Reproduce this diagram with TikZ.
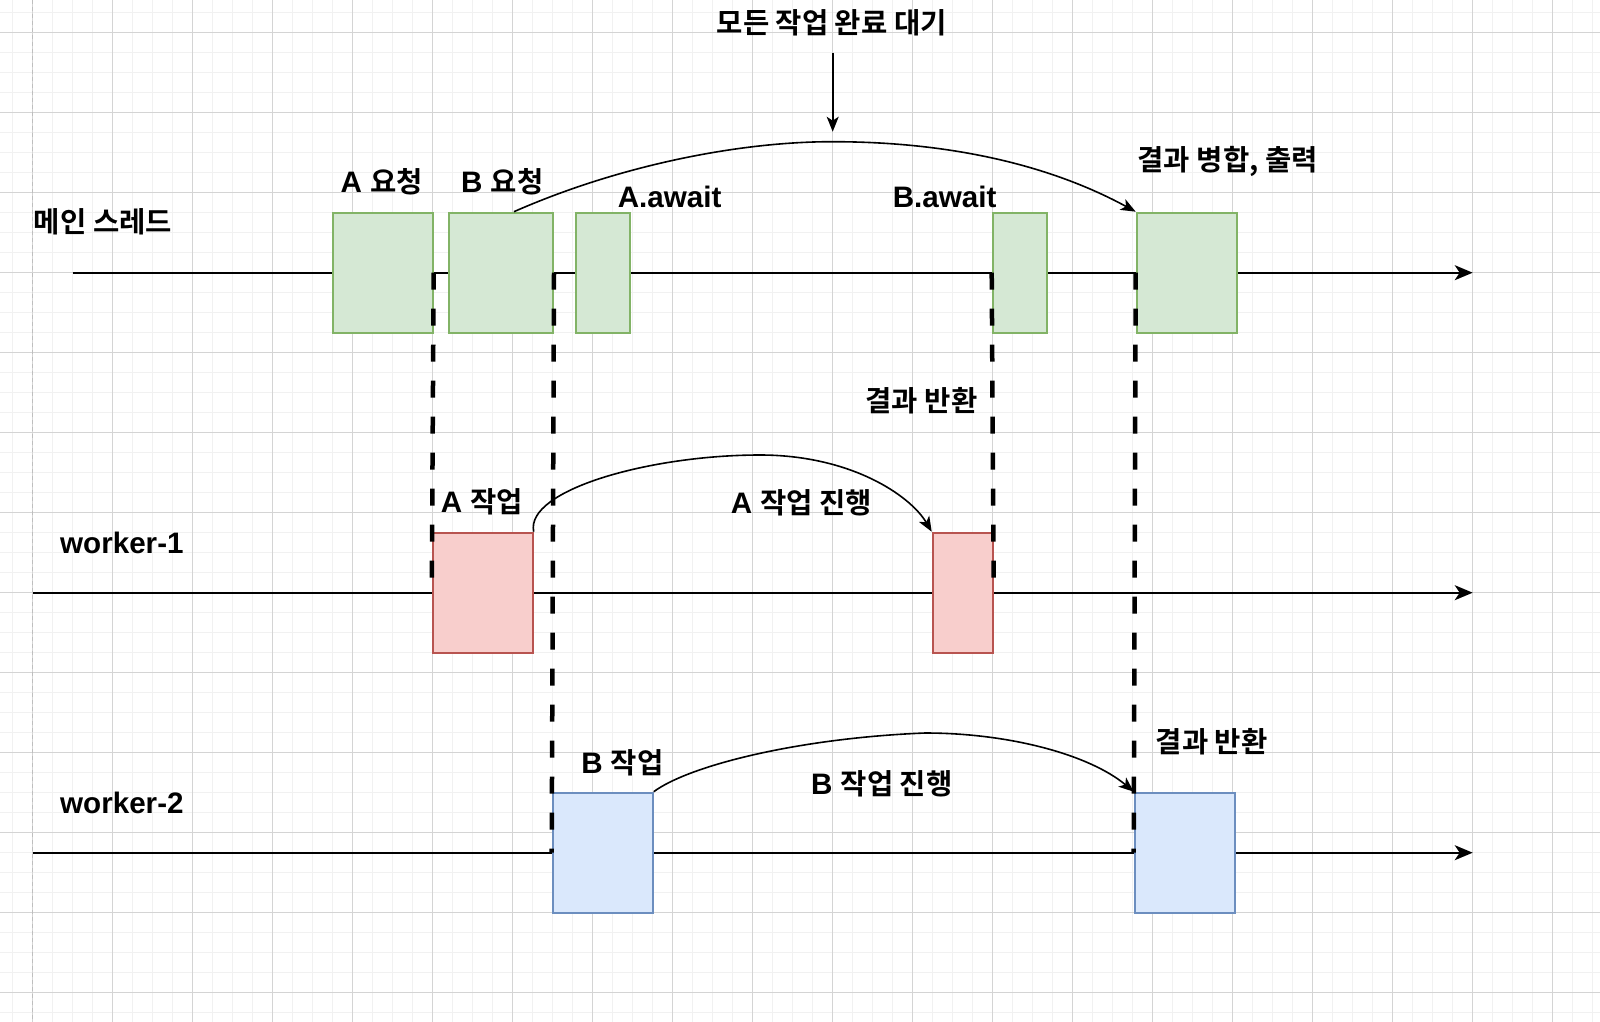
\documentclass[tikz,border=0pt]{standalone}
\usepackage{fontspec}
\setmainfont{Liberation Sans}
\newfontfamily\kr{Noto Sans CJK KR}[BoldFont={Noto Sans CJK KR Bold}]
\usetikzlibrary{arrows.meta}
\definecolor{gmin}{RGB}{241,241,241}
\definecolor{gmaj}{RGB}{212,212,212}
\definecolor{gborder}{RGB}{190,190,190}
\definecolor{gstroke}{HTML}{82B366}
\definecolor{gfill}{HTML}{D5E8D4}
\definecolor{rstroke}{HTML}{B85450}
\definecolor{rfill}{HTML}{F8CECC}
\definecolor{bstroke}{HTML}{6C8EBF}
\definecolor{bfill}{HTML}{DAE8FC}
\newcommand\ko[1]{{\kr\bfseries\fontsize{28.6}{32}\selectfont #1}}
\begin{document}
\begin{tikzpicture}[x=1pt,y=-1pt,
  lane/.style={line width=2pt,-{Stealth[length=18pt,width=15pt,inset=5pt]}},
  boxbase/.style={line width=2pt,inner sep=0pt,minimum height=120pt},
  gbox/.style={boxbase,draw=gstroke,fill=gfill},
  rbox/.style={boxbase,draw=rstroke,fill=rfill},
  bbox/.style={boxbase,draw=bstroke,fill=bfill},
  sync/.style={line width=4.5pt,dash pattern=on 17pt off 19pt},
  flow/.style={line width=1.6pt,-{Stealth[length=15pt,width=12pt,inset=4pt]}},
  lbl/.style={font=\bfseries\fontsize{29.6}{33}\selectfont,inner sep=0pt}
]
\useasboundingbox (0,0) rectangle (1600,1022);
\fill[white] (0,0) rectangle (1600,1022);
% grid
\foreach \i in {0,...,79} {
  \draw[gmin,line width=1pt] ({12.7+20*\i},0) -- ({12.7+20*\i},1022);
}
\foreach \i in {0,...,50} {
  \draw[gmin,line width=1pt] (0,{12.7+20*\i}) -- (1600,{12.7+20*\i});
}
\foreach \i in {0,...,19} {
  \draw[gmaj,line width=1pt] ({32.7+80*\i},0) -- ({32.7+80*\i},1022);
}
\foreach \i in {0,...,12} {
  \draw[gmaj,line width=1pt] (0,{32.7+80*\i}) -- (1600,{32.7+80*\i});
}
\draw[gborder,line width=1pt,dash pattern=on 4pt off 3pt] (32.7,0) -- (32.7,1022);

% timelines
\coordinate (m0) at (72.7,272.7);
\coordinate (m1) at (1472.7,272.7);
\coordinate (w10) at (32.7,592.7);
\coordinate (w11) at (1472.7,592.7);
\coordinate (w20) at (32.7,852.7);
\coordinate (w21) at (1472.7,852.7);
\draw[lane] (m0) -- (m1);
\draw[lane] (w10) -- (w11);
\draw[lane] (w20) -- (w21);

% boxes
\node[gbox,minimum width=100pt] (areq) at (382.7,272.7) {};
\node[gbox,minimum width=104pt] (breq) at (501,272.7) {};
\node[gbox,minimum width=54pt] (aawait) at (603,272.7) {};
\node[gbox,minimum width=54pt] (bawait) at (1019.7,272.7) {};
\node[gbox,minimum width=100pt] (merge) at (1186.7,272.7) {};
\node[rbox,minimum width=100pt] (awork) at (482.7,592.7) {};
\node[rbox,minimum width=60pt] (ares) at (962.7,592.7) {};
\node[bbox,minimum width=100pt] (bwork) at (602.7,852.7) {};
\node[bbox,minimum width=100pt] (bres) at (1184.7,852.7) {};

% sync dashed lines
\draw[sync] (areq.east) -- (awork.west);
\draw[sync] (breq.east) -- (bwork.west);
\draw[sync] (bawait.west) -- (ares.east);
\draw[sync] (merge.west) -- (bres.west);

% curved flows
\draw[flow] (breq.78) .. controls (620,165) and (740,141.7) .. (832,141.7)
  .. controls (950,141.7) and (1050,165) .. (merge.north west);
\draw[flow] (awork.north east) .. controls (525,490) and (650,455) .. (760,455)
  .. controls (850,455) and (910,495) .. (ares.north west);
\draw[flow] (bwork.north east) .. controls (690,765) and (800,738) .. (925,733)
  .. controls (1010,733) and (1090,755) .. (bres.north west);

% wait arrow
\coordinate (wt) at (832.7,52.7);
\coordinate (wb) at (832.7,131.7);
\draw[flow] (wt) -- (wb);

% labels
\node[lbl,anchor=west] (lmain) at (33.7,222) {\ko{메인 스레드}};
\node[lbl] (lareq) at (381.7,181.7) {A \ko{요청}};
\node[lbl] (lbreq) at (502.3,181.7) {B \ko{요청}};
\node[lbl] (laawait) at (669.6,196.7) {A.await};
\node[lbl] (lbawait) at (944.6,196.7) {B.await};
\node[lbl] (lwait) at (831.7,22.5) {\ko{모든 작업 완료 대기}};
\node[lbl] (lmerge) at (1227.7,161.7) {\ko{결과 병합, 출력}};
\node[lbl] (lret1) at (921.5,401) {\ko{결과 반환}};
\node[lbl] (lawork) at (481.9,501.7) {A \ko{작업}};
\node[lbl] (laprog) at (801.6,502.7) {A \ko{작업 진행}};
\node[lbl,anchor=west] (lw1) at (60,543.3) {worker-1};
\node[lbl,anchor=west] (lw2) at (60,803.3) {worker-2};
\node[lbl] (lbwork) at (622.4,762.5) {B \ko{작업}};
\node[lbl] (lbprog) at (881.9,784.2) {B \ko{작업 진행}};
\node[lbl] (lret2) at (1211.7,741.7) {\ko{결과 반환}};
\end{tikzpicture}
\end{document}
